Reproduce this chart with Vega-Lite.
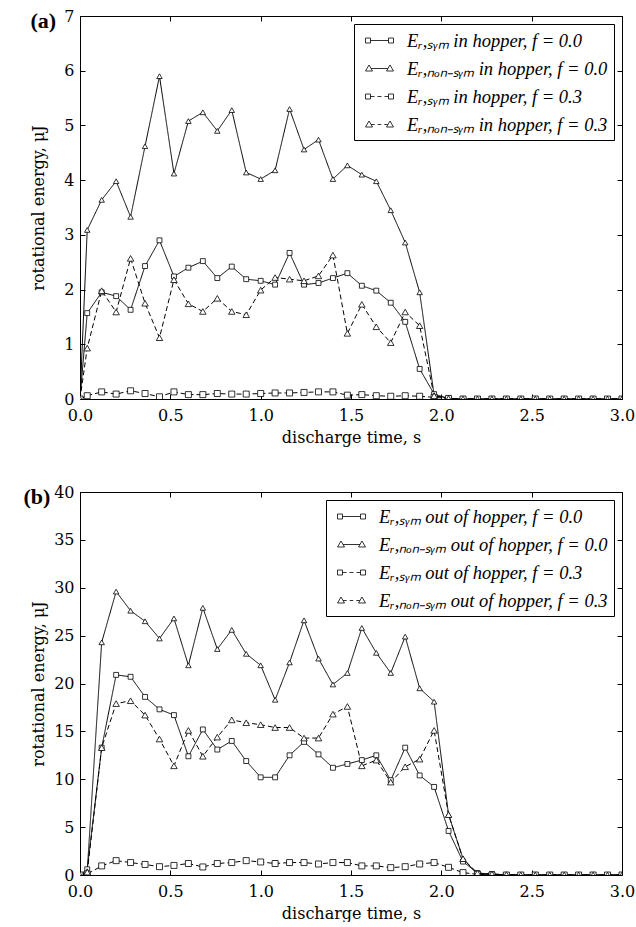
{
  "$schema": "https://vega.github.io/schema/vega-lite/v6.json",
  "padding": {"left": 22, "top": 7, "right": 5, "bottom": 0},
  "spacing": 37,
  "datasets": {
    "pa": [
      {"t": 0, "a": 0, "b": 0, "c": 0, "d": 0},
      {"t": 0.04, "a": 1.57, "b": 3.09, "c": 0.06, "d": 0.93},
      {"t": 0.12, "a": 1.95, "b": 3.64, "c": 0.13, "d": 1.98},
      {"t": 0.20, "a": 1.88, "b": 3.98, "c": 0.09, "d": 1.59},
      {"t": 0.28, "a": 1.63, "b": 3.33, "c": 0.15, "d": 2.57},
      {"t": 0.36, "a": 2.43, "b": 4.62, "c": 0.10, "d": 1.75},
      {"t": 0.44, "a": 2.90, "b": 5.90, "c": 0.04, "d": 1.12},
      {"t": 0.52, "a": 2.24, "b": 4.12, "c": 0.13, "d": 2.18},
      {"t": 0.60, "a": 2.40, "b": 5.08, "c": 0.08, "d": 1.74},
      {"t": 0.68, "a": 2.52, "b": 5.24, "c": 0.08, "d": 1.60},
      {"t": 0.76, "a": 2.21, "b": 4.90, "c": 0.10, "d": 1.84},
      {"t": 0.84, "a": 2.42, "b": 5.28, "c": 0.09, "d": 1.60},
      {"t": 0.92, "a": 2.19, "b": 4.14, "c": 0.09, "d": 1.54},
      {"t": 1.00, "a": 2.16, "b": 4.02, "c": 0.10, "d": 1.99},
      {"t": 1.08, "a": 2.09, "b": 4.18, "c": 0.11, "d": 2.22},
      {"t": 1.16, "a": 2.67, "b": 5.30, "c": 0.11, "d": 2.19},
      {"t": 1.24, "a": 2.09, "b": 4.56, "c": 0.12, "d": 2.16},
      {"t": 1.32, "a": 2.12, "b": 4.74, "c": 0.13, "d": 2.25},
      {"t": 1.40, "a": 2.21, "b": 4.02, "c": 0.13, "d": 2.63},
      {"t": 1.48, "a": 2.30, "b": 4.27, "c": 0.07, "d": 1.20},
      {"t": 1.56, "a": 2.07, "b": 4.10, "c": 0.08, "d": 1.73},
      {"t": 1.64, "a": 1.98, "b": 3.98, "c": 0.06, "d": 1.32},
      {"t": 1.72, "a": 1.76, "b": 3.45, "c": 0.05, "d": 1.03},
      {"t": 1.80, "a": 1.41, "b": 2.86, "c": 0.06, "d": 1.59},
      {"t": 1.88, "a": 0.55, "b": 1.95, "c": 0.05, "d": 1.34},
      {"t": 1.96, "a": 0.09, "b": 0.07, "c": 0.03, "d": 0.06},
      {"t": 2.04, "a": 0.01, "b": 0.01, "c": 0.01, "d": 0.01},
      {"t": 2.12, "a": 0, "b": 0, "c": 0, "d": 0},
      {"t": 2.20, "a": 0, "b": 0, "c": 0, "d": 0},
      {"t": 2.28, "a": 0, "b": 0, "c": 0, "d": 0},
      {"t": 2.36, "a": 0, "b": 0, "c": 0, "d": 0},
      {"t": 2.44, "a": 0, "b": 0, "c": 0, "d": 0},
      {"t": 2.52, "a": 0, "b": 0, "c": 0, "d": 0},
      {"t": 2.60, "a": 0, "b": 0, "c": 0, "d": 0},
      {"t": 2.68, "a": 0, "b": 0, "c": 0, "d": 0},
      {"t": 2.76, "a": 0, "b": 0, "c": 0, "d": 0},
      {"t": 2.84, "a": 0, "b": 0, "c": 0, "d": 0},
      {"t": 2.92, "a": 0, "b": 0, "c": 0, "d": 0},
      {"t": 3.00, "a": 0, "b": 0, "c": 0, "d": 0}
    ],
    "pb": [
      {"t": 0, "a": 0, "b": 0, "c": 0, "d": 0},
      {"t": 0.04, "a": 0.6, "b": 0.4, "c": 0.1, "d": 0.3},
      {"t": 0.12, "a": 13.3, "b": 24.3, "c": 0.95, "d": 13.3},
      {"t": 0.20, "a": 20.9, "b": 29.6, "c": 1.5, "d": 17.9},
      {"t": 0.28, "a": 20.7, "b": 27.6, "c": 1.3, "d": 18.2},
      {"t": 0.36, "a": 18.6, "b": 26.5, "c": 1.1, "d": 16.7},
      {"t": 0.44, "a": 17.3, "b": 24.7, "c": 0.87, "d": 14.2},
      {"t": 0.52, "a": 16.7, "b": 26.8, "c": 1.0, "d": 11.4},
      {"t": 0.60, "a": 12.4, "b": 21.9, "c": 1.2, "d": 15.1},
      {"t": 0.68, "a": 15.2, "b": 27.9, "c": 0.84, "d": 12.4},
      {"t": 0.76, "a": 13.1, "b": 23.6, "c": 1.2, "d": 14.4},
      {"t": 0.84, "a": 14.0, "b": 25.6, "c": 1.3, "d": 16.2},
      {"t": 0.92, "a": 11.9, "b": 23.1, "c": 1.5, "d": 15.9},
      {"t": 1.00, "a": 10.2, "b": 21.9, "c": 1.36, "d": 15.7},
      {"t": 1.08, "a": 10.2, "b": 18.3, "c": 1.2, "d": 15.4},
      {"t": 1.16, "a": 12.5, "b": 22.2, "c": 1.3, "d": 15.4},
      {"t": 1.24, "a": 13.9, "b": 26.6, "c": 1.3, "d": 14.3},
      {"t": 1.32, "a": 12.6, "b": 22.6, "c": 1.15, "d": 14.3},
      {"t": 1.40, "a": 11.2, "b": 19.9, "c": 1.3, "d": 16.8},
      {"t": 1.48, "a": 11.6, "b": 21.1, "c": 1.3, "d": 17.6},
      {"t": 1.56, "a": 12.0, "b": 25.8, "c": 0.95, "d": 11.4},
      {"t": 1.64, "a": 12.5, "b": 23.2, "c": 0.95, "d": 12.0},
      {"t": 1.72, "a": 9.9, "b": 21.1, "c": 0.77, "d": 9.7},
      {"t": 1.80, "a": 13.3, "b": 24.9, "c": 0.87, "d": 11.3},
      {"t": 1.88, "a": 10.4, "b": 19.5, "c": 1.15, "d": 12.1},
      {"t": 1.96, "a": 9.2, "b": 18.1, "c": 1.3, "d": 15.1},
      {"t": 2.04, "a": 4.6, "b": 6.3, "c": 0.8, "d": 6.3},
      {"t": 2.12, "a": 1.4, "b": 1.7, "c": 0.25, "d": 1.7},
      {"t": 2.20, "a": 0.2, "b": 0.1, "c": 0.07, "d": 0.2},
      {"t": 2.28, "a": 0.1, "b": 0.05, "c": 0, "d": 0.1},
      {"t": 2.36, "a": 0, "b": 0, "c": 0, "d": 0.05},
      {"t": 2.44, "a": 0, "b": 0, "c": 0, "d": 0},
      {"t": 2.52, "a": 0, "b": 0, "c": 0, "d": 0},
      {"t": 2.60, "a": 0, "b": 0, "c": 0, "d": 0},
      {"t": 2.68, "a": 0, "b": 0, "c": 0, "d": 0},
      {"t": 2.76, "a": 0, "b": 0, "c": 0, "d": 0},
      {"t": 2.84, "a": 0, "b": 0, "c": 0, "d": 0},
      {"t": 2.92, "a": 0, "b": 0, "c": 0, "d": 0},
      {"t": 3.00, "a": 0, "b": 0, "c": 0, "d": 0}
    ]
  },
  "vconcat": [
    {
      "width": 542,
      "height": 383,
      "data": {"name": "pa"},
      "transform": [{"fold": ["a", "b", "c", "d"], "as": ["s", "e"]}],
      "layer": [
        {
          "mark": {"type": "line", "color": "black", "strokeWidth": 1, "clip": true},
          "encoding": {
            "x": {"field": "t", "type": "quantitative", "scale": {"domain": [0, 3], "nice": false, "zero": false}, "axis": {"values": [0, 0.5, 1, 1.5, 2, 2.5, 3], "format": ".1f", "title": "discharge time, s"}},
            "y": {"field": "e", "type": "quantitative", "scale": {"domain": [0, 7], "nice": false}, "axis": {"values": [0, 1, 2, 3, 4, 5, 6, 7], "format": "d", "title": "rotational energy, μJ", "titlePadding": 17}},
            "strokeDash": {"field": "s", "type": "nominal", "scale": {"domain": ["a", "b", "c", "d"], "range": [[1, 0], [1, 0], [5, 3], [5, 3]]}, "legend": null}
          }
        },
        {
          "mark": {"type": "point", "filled": true, "fill": "white", "stroke": "black", "strokeWidth": 0.8, "opacity": 1, "clip": true},
          "encoding": {
            "x": {"field": "t", "type": "quantitative", "scale": {"domain": [0, 3], "nice": false, "zero": false}, "axis": null},
            "y": {"field": "e", "type": "quantitative", "scale": {"domain": [0, 7], "nice": false}, "axis": null},
            "shape": {"field": "s", "type": "nominal", "scale": {"domain": ["a", "b", "c", "d"], "range": ["square", "triangle-up", "square", "triangle-up"]}, "legend": null},
            "size": {"field": "s", "type": "nominal", "scale": {"domain": ["a", "b", "c", "d"], "range": [24, 42, 24, 42]}, "legend": null}
          }
        },
        {
          "transform": [{"filter": "datum.t < 0"}],
          "mark": {"type": "point", "filled": false, "stroke": "black", "strokeWidth": 0.8},
          "encoding": {
            "x": {"field": "t", "type": "quantitative", "scale": {"domain": [0, 3], "nice": false, "zero": false}, "axis": {"orient": "top", "labels": false, "title": "(a)", "titleX": -50, "titleY": 11, "titleAlign": "left", "titleBaseline": "alphabetic", "titleAngle": 0, "titleFont": "Liberation Serif", "titleFontSize": 22, "titleFontWeight": "bold", "minExtent": 0, "maxExtent": 0, "values": [0, 0.5, 1, 1.5, 2, 2.5, 3]}},
            "y": {"field": "e", "type": "quantitative", "scale": {"domain": [0, 7], "nice": false}, "axis": {"orient": "right", "labels": false, "title": null, "minExtent": 0, "maxExtent": 0, "values": [0, 1, 2, 3, 4, 5, 6, 7]}},
            "shape": {"field": "s", "type": "nominal", "scale": {"domain": ["a", "b", "c", "d"], "range": [
              "M-0.5,-0.25H0V0.25H-0.5Z M1.8,-0.25H2.3V0.25H1.8Z M0,0H1.8",
              "M-0.15,-0.35L0.2,0.25H-0.5Z M1.95,-0.35L2.3,0.25H1.6Z M0.06,0H1.74",
              "M-0.5,-0.25H0V0.25H-0.5Z M1.8,-0.25H2.3V0.25H1.8Z M0,0H0.4M0.7,0H1.1M1.4,0H1.8",
              "M-0.15,-0.35L0.2,0.25H-0.5Z M1.95,-0.35L2.3,0.25H1.6Z M0.06,0H0.42M0.72,0H1.08M1.38,0H1.74"
            ]}, "legend": {
              "labelExpr": "datum.value === 'a' ? 'Eᵣ,ₛᵧₘ in hopper, f = 0.0' : datum.value === 'b' ? 'Eᵣ,ₙₒₙ₋ₛᵧₘ in hopper, f = 0.0' : datum.value === 'c' ? 'Eᵣ,ₛᵧₘ in hopper, f = 0.3' : 'Eᵣ,ₙₒₙ₋ₛᵧₘ in hopper, f = 0.3'",
              "encode": {"symbols": {"update": {"stroke": {"value": "black"}, "fill": {"value": "white"}, "opacity": {"value": 1}, "strokeOpacity": {"value": 1}, "fillOpacity": {"value": 1}, "strokeWidth": {"value": 0.8}}}}
            }}
          }
        }
      ],
      "resolve": {"scale": {"shape": "independent", "size": "independent"}, "axis": {"x": "independent", "y": "independent"}}
    },
    {
      "width": 542,
      "height": 383,
      "data": {"name": "pb"},
      "transform": [{"fold": ["a", "b", "c", "d"], "as": ["s", "e"]}],
      "layer": [
        {
          "mark": {"type": "line", "color": "black", "strokeWidth": 1, "clip": true},
          "encoding": {
            "x": {"field": "t", "type": "quantitative", "scale": {"domain": [0, 3], "nice": false, "zero": false}, "axis": {"values": [0, 0.5, 1, 1.5, 2, 2.5, 3], "format": ".1f", "title": "discharge time, s"}},
            "y": {"field": "e", "type": "quantitative", "scale": {"domain": [0, 40], "nice": false}, "axis": {"values": [0, 5, 10, 15, 20, 25, 30, 35, 40], "format": "d", "title": "rotational energy, μJ", "titlePadding": 7}},
            "strokeDash": {"field": "s", "type": "nominal", "scale": {"domain": ["a", "b", "c", "d"], "range": [[1, 0], [1, 0], [5, 3], [5, 3]]}, "legend": null}
          }
        },
        {
          "mark": {"type": "point", "filled": true, "fill": "white", "stroke": "black", "strokeWidth": 0.8, "opacity": 1, "clip": true},
          "encoding": {
            "x": {"field": "t", "type": "quantitative", "scale": {"domain": [0, 3], "nice": false, "zero": false}, "axis": null},
            "y": {"field": "e", "type": "quantitative", "scale": {"domain": [0, 40], "nice": false}, "axis": null},
            "shape": {"field": "s", "type": "nominal", "scale": {"domain": ["a", "b", "c", "d"], "range": ["square", "triangle-up", "square", "triangle-up"]}, "legend": null},
            "size": {"field": "s", "type": "nominal", "scale": {"domain": ["a", "b", "c", "d"], "range": [24, 42, 24, 42]}, "legend": null}
          }
        },
        {
          "transform": [{"filter": "datum.t < 0"}],
          "mark": {"type": "point", "filled": false, "stroke": "black", "strokeWidth": 0.8},
          "encoding": {
            "x": {"field": "t", "type": "quantitative", "scale": {"domain": [0, 3], "nice": false, "zero": false}, "axis": {"orient": "top", "labels": false, "title": "(b)", "titleX": -57, "titleY": 11, "titleAlign": "left", "titleBaseline": "alphabetic", "titleAngle": 0, "titleFont": "Liberation Serif", "titleFontSize": 22, "titleFontWeight": "bold", "minExtent": 0, "maxExtent": 0, "values": [0, 0.5, 1, 1.5, 2, 2.5, 3]}},
            "y": {"field": "e", "type": "quantitative", "scale": {"domain": [0, 40], "nice": false}, "axis": {"orient": "right", "labels": false, "title": null, "minExtent": 0, "maxExtent": 0, "values": [0, 5, 10, 15, 20, 25, 30, 35, 40]}},
            "shape": {"field": "s", "type": "nominal", "scale": {"domain": ["a", "b", "c", "d"], "range": [
              "M-0.5,-0.25H0V0.25H-0.5Z M1.8,-0.25H2.3V0.25H1.8Z M0,0H1.8",
              "M-0.15,-0.35L0.2,0.25H-0.5Z M1.95,-0.35L2.3,0.25H1.6Z M0.06,0H1.74",
              "M-0.5,-0.25H0V0.25H-0.5Z M1.8,-0.25H2.3V0.25H1.8Z M0,0H0.4M0.7,0H1.1M1.4,0H1.8",
              "M-0.15,-0.35L0.2,0.25H-0.5Z M1.95,-0.35L2.3,0.25H1.6Z M0.06,0H0.42M0.72,0H1.08M1.38,0H1.74"
            ]}, "legend": {
              "labelExpr": "datum.value === 'a' ? 'Eᵣ,ₛᵧₘ out of hopper, f = 0.0' : datum.value === 'b' ? 'Eᵣ,ₙₒₙ₋ₛᵧₘ out of hopper, f = 0.0' : datum.value === 'c' ? 'Eᵣ,ₛᵧₘ out of hopper, f = 0.3' : 'Eᵣ,ₙₒₙ₋ₛᵧₘ out of hopper, f = 0.3'",
              "encode": {"symbols": {"update": {"stroke": {"value": "black"}, "fill": {"value": "white"}, "opacity": {"value": 1}, "strokeOpacity": {"value": 1}, "fillOpacity": {"value": 1}, "strokeWidth": {"value": 0.8}}}}
            }}
          }
        }
      ],
      "resolve": {"scale": {"shape": "independent", "size": "independent"}, "axis": {"x": "independent", "y": "independent"}}
    }
  ],
  "config": {
    "font": "DejaVu Serif",
    "view": {"stroke": "black", "strokeWidth": 1},
    "axis": {
      "labelFont": "DejaVu Serif", "labelFontSize": 16, "labelColor": "black", "labelFlush": false,
      "titleFont": "DejaVu Serif", "titleFontSize": 16, "titleFontWeight": "normal", "titleColor": "black",
      "grid": false, "domain": false, "ticks": true, "tickColor": "black", "tickWidth": 1, "tickSize": -5,
      "labelPadding": 13, "titlePadding": 6, "minExtent": 0
    },
    "axisY": {"labelPadding": 11, "minExtent": 0},
    "legend": {
      "orient": "top-right", "offset": 8, "title": null,
      "strokeColor": "black", "fillColor": "white", "padding": 6, "cornerRadius": 0,
      "labelFont": "Liberation Serif", "labelFontStyle": "italic", "labelFontSize": 18.5, "labelColor": "black", "labelLimit": 400,
      "symbolSize": 400, "labelOffset": 26, "rowPadding": 8,
      "symbolStrokeColor": "black", "symbolFillColor": "white", "symbolStrokeWidth": 0.8, "symbolOpacity": 1
    }
  }
}
